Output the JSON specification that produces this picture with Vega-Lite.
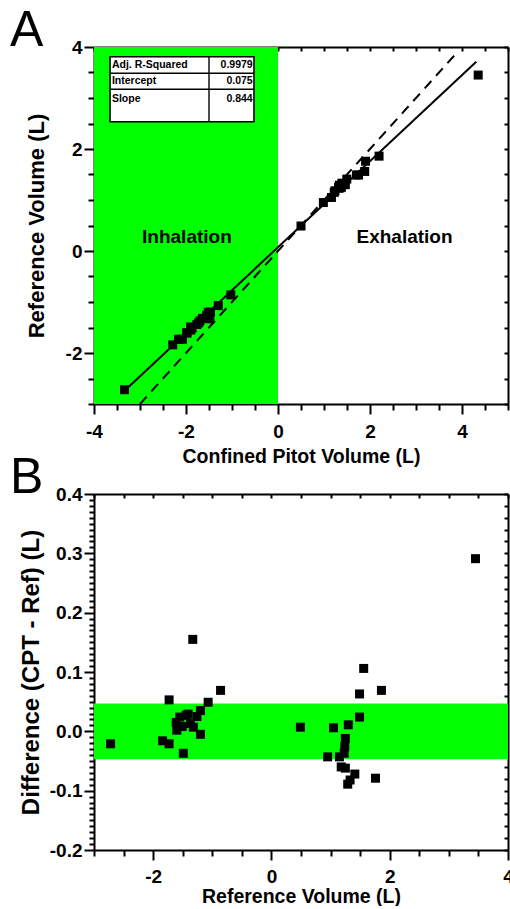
{
  "$schema": "https://vega.github.io/schema/vega-lite/v6.json",
  "padding": {"left": 10, "top": 6, "right": 0, "bottom": 0},
  "spacing": -13,
  "datasets": {
    "pts": [
      {"ref": -2.72, "diff": -0.021, "cpt": -3.337},
      {"ref": -1.33, "diff": 0.155, "cpt": -1.481},
      {"ref": -1.73, "diff": 0.053, "cpt": -2.076},
      {"ref": -0.86, "diff": 0.069, "cpt": -1.026},
      {"ref": -1.07, "diff": 0.049, "cpt": -1.299},
      {"ref": -1.20, "diff": 0.035, "cpt": -1.469},
      {"ref": -1.41, "diff": 0.029, "cpt": -1.725},
      {"ref": -1.55, "diff": 0.024, "cpt": -1.897},
      {"ref": -1.61, "diff": 0.015, "cpt": -1.979},
      {"ref": -1.60, "diff": 0.002, "cpt": -1.982},
      {"ref": -1.51, "diff": 0.008, "cpt": -1.868},
      {"ref": -1.37, "diff": 0.013, "cpt": -1.697},
      {"ref": -1.32, "diff": 0.007, "cpt": -1.645},
      {"ref": -1.26, "diff": 0.025, "cpt": -1.552},
      {"ref": -1.20, "diff": -0.005, "cpt": -1.517},
      {"ref": -1.84, "diff": -0.016, "cpt": -2.288},
      {"ref": -1.73, "diff": -0.021, "cpt": -2.164},
      {"ref": -1.49, "diff": -0.037, "cpt": -1.898},
      {"ref": -1.44, "diff": 0.027, "cpt": -1.763},
      {"ref": 0.49, "diff": 0.007, "cpt": 0.500},
      {"ref": 1.05, "diff": 0.006, "cpt": 1.162},
      {"ref": 1.30, "diff": 0.011, "cpt": 1.464},
      {"ref": 1.49, "diff": 0.024, "cpt": 1.705},
      {"ref": 1.49, "diff": 0.063, "cpt": 1.751},
      {"ref": 1.56, "diff": 0.106, "cpt": 1.885},
      {"ref": 1.86, "diff": 0.069, "cpt": 2.197},
      {"ref": 0.95, "diff": -0.043, "cpt": 0.986},
      {"ref": 1.15, "diff": -0.043, "cpt": 1.223},
      {"ref": 1.25, "diff": -0.012, "cpt": 1.378},
      {"ref": 1.24, "diff": -0.026, "cpt": 1.350},
      {"ref": 1.23, "diff": -0.037, "cpt": 1.325},
      {"ref": 1.18, "diff": -0.060, "cpt": 1.238},
      {"ref": 1.25, "diff": -0.062, "cpt": 1.319},
      {"ref": 1.41, "diff": -0.072, "cpt": 1.496},
      {"ref": 1.33, "diff": -0.082, "cpt": 1.390},
      {"ref": 1.29, "diff": -0.089, "cpt": 1.334},
      {"ref": 1.76, "diff": -0.079, "cpt": 1.903},
      {"ref": 3.45, "diff": 0.291, "cpt": 4.352}
    ],
    "fit": [
      {"stat": "Adj. R-Squared", "value": "0.9979"},
      {"stat": "Intercept", "value": "0.075"},
      {"stat": "Slope", "value": "0.844"}
    ]
  },
  "vconcat": [
    {
      "width": 414,
      "height": 357,
      "title": {"text": "A", "anchor": "start", "frame": "group", "fontSize": 50, "fontWeight": "normal", "dx": -84, "offset": -18, "color": "black"},
      "resolve": {"axis": {"x": "independent", "y": "independent"}},
      "layer": [
        {
          "data": {"values": [{"start": -4, "end": 0}]},
          "mark": {"type": "rect", "color": "#00ff00"},
          "encoding": {
            "x": {"field": "start", "type": "quantitative", "scale": {"domain": [-4, 5], "nice": false}, "axis": null},
            "x2": {"field": "end"}
          }
        },
        {
          "data": {"values": [{"v": -3}, {"v": 3.9}]},
          "mark": {"type": "line", "color": "black", "strokeWidth": 2, "strokeDash": [10, 7]},
          "encoding": {
            "x": {"field": "v", "type": "quantitative", "scale": {"domain": [-4, 5], "nice": false},
              "axis": {"orient": "top", "values": [-4,-3.5,-3,-2.5,-2,-1.5,-1,-0.5,0,0.5,1,1.5,2,2.5,3,3.5,4,4.5,5], "labels": false, "title": null, "tickSize": 3, "tickWidth": 2,
                "encoding": {"ticks": {"y2": {"value": 4}}}}},
            "y": {"field": "v", "type": "quantitative", "scale": {"domain": [-3, 4], "nice": false},
              "axis": {"orient": "right", "values": [-3,-2.5,-2,-1.5,-1,-0.5,0,0.5,1,1.5,2,2.5,3,3.5,4], "labels": false, "title": null, "tickSize": 3, "tickWidth": 2,
                "encoding": {"ticks": {"x2": {"value": -4}}}}}
          }
        },
        {
          "data": {"values": [{"x": -3.36, "y": -2.76}, {"x": 4.31, "y": 3.71}]},
          "mark": {"type": "line", "color": "black", "strokeWidth": 2},
          "encoding": {
            "x": {"field": "x", "type": "quantitative", "axis": null},
            "y": {"field": "y", "type": "quantitative", "axis": null}
          }
        },
        {
          "data": {"name": "pts"},
          "mark": {"type": "point", "shape": "square", "filled": true, "color": "black", "opacity": 1, "size": 81},
          "encoding": {
            "x": {"field": "cpt", "type": "quantitative", "scale": {"domain": [-4, 5], "nice": false},
              "axis": {"orient": "bottom", "values": [-4,-3.5,-3,-2.5,-2,-1.5,-1,-0.5,0,0.5,1,1.5,2,2.5,3,3.5,4,4.5,5],
                "labelExpr": "datum.value % 2 === 0 ? '' + datum.value : ''", "tickSize": 10, "tickWidth": 2,
                "encoding": {"ticks": {"y2": {"condition": {"test": "datum.value % 2 === 0", "value": 10}, "value": 6}}},
                "labelPadding": 8, "title": "Confined Pitot Volume (L)", "titlePadding": 6}},
            "y": {"field": "ref", "type": "quantitative", "scale": {"domain": [-3, 4], "nice": false},
              "axis": {"orient": "left", "values": [-3,-2.5,-2,-1.5,-1,-0.5,0,0.5,1,1.5,2,2.5,3,3.5,4],
                "labelExpr": "datum.value % 2 === 0 ? '' + datum.value : ''", "tickSize": 10, "tickWidth": 2,
                "encoding": {"ticks": {"x2": {"condition": {"test": "datum.value % 2 === 0", "value": -10}, "value": -6}}},
                "labelPadding": 2, "title": "Reference Volume (L)", "titleFontSize": 22, "titlePadding": 17}}
          }
        },
        {
          "data": {"values": [{}]},
          "mark": {"type": "text", "text": "Inhalation", "fontSize": 19, "fontWeight": "bold", "baseline": "middle", "color": "black"},
          "encoding": {"x": {"datum": -1.98, "axis": null}, "y": {"datum": 0.28, "axis": null}}
        },
        {
          "data": {"values": [{}]},
          "mark": {"type": "text", "text": "Exhalation", "fontSize": 19, "fontWeight": "bold", "baseline": "middle", "color": "black"},
          "encoding": {"x": {"datum": 2.75, "axis": null}, "y": {"datum": 0.28, "axis": null}}
        },
        {
          "data": {"values": [{}]},
          "mark": {"type": "rect", "fill": "white", "stroke": "black", "strokeWidth": 1.6},
          "encoding": {"x": {"datum": -3.652, "axis": null}, "x2": {"datum": -0.522}, "y": {"datum": 3.81, "axis": null}, "y2": {"datum": 2.535}}
        },
        {
          "data": {"values": [{}]},
          "mark": {"type": "rule", "color": "black", "strokeWidth": 1.4},
          "encoding": {"x": {"datum": -3.652, "axis": null}, "x2": {"datum": -0.522}, "y": {"datum": 3.484, "axis": null}}
        },
        {
          "data": {"values": [{}]},
          "mark": {"type": "rule", "color": "black", "strokeWidth": 1.4},
          "encoding": {"x": {"datum": -3.652, "axis": null}, "x2": {"datum": -0.522}, "y": {"datum": 3.171, "axis": null}}
        },
        {
          "data": {"values": [{}]},
          "mark": {"type": "rule", "color": "black", "strokeWidth": 1.4},
          "encoding": {"x": {"datum": -1.5, "axis": null}, "y": {"datum": 3.81, "axis": null}, "y2": {"datum": 2.535}}
        },
        {
          "data": {"name": "fit"},
          "transform": [{"filter": "datum.stat === 'Adj. R-Squared'"}],
          "mark": {"type": "text", "align": "left", "baseline": "alphabetic", "fontSize": 10.5, "fontWeight": "bold", "color": "black"},
          "encoding": {"x": {"datum": -3.61, "axis": null}, "y": {"datum": 3.58, "axis": null}, "text": {"field": "stat"}}
        },
        {
          "data": {"name": "fit"},
          "transform": [{"filter": "datum.stat === 'Adj. R-Squared'"}],
          "mark": {"type": "text", "align": "right", "baseline": "alphabetic", "fontSize": 10.5, "fontWeight": "bold", "color": "black"},
          "encoding": {"x": {"datum": -0.55, "axis": null}, "y": {"datum": 3.58, "axis": null}, "text": {"field": "value"}}
        },
        {
          "data": {"name": "fit"},
          "transform": [{"filter": "datum.stat === 'Intercept'"}],
          "mark": {"type": "text", "align": "left", "baseline": "alphabetic", "fontSize": 10.5, "fontWeight": "bold", "color": "black"},
          "encoding": {"x": {"datum": -3.61, "axis": null}, "y": {"datum": 3.27, "axis": null}, "text": {"field": "stat"}}
        },
        {
          "data": {"name": "fit"},
          "transform": [{"filter": "datum.stat === 'Intercept'"}],
          "mark": {"type": "text", "align": "right", "baseline": "alphabetic", "fontSize": 10.5, "fontWeight": "bold", "color": "black"},
          "encoding": {"x": {"datum": -0.55, "axis": null}, "y": {"datum": 3.27, "axis": null}, "text": {"field": "value"}}
        },
        {
          "data": {"name": "fit"},
          "transform": [{"filter": "datum.stat === 'Slope'"}],
          "mark": {"type": "text", "align": "left", "baseline": "alphabetic", "fontSize": 10.5, "fontWeight": "bold", "color": "black"},
          "encoding": {"x": {"datum": -3.61, "axis": null}, "y": {"datum": 2.93, "axis": null}, "text": {"field": "stat"}}
        },
        {
          "data": {"name": "fit"},
          "transform": [{"filter": "datum.stat === 'Slope'"}],
          "mark": {"type": "text", "align": "right", "baseline": "alphabetic", "fontSize": 10.5, "fontWeight": "bold", "color": "black"},
          "encoding": {"x": {"datum": -0.55, "axis": null}, "y": {"datum": 2.93, "axis": null}, "text": {"field": "value"}}
        }
      ]
    },
    {
      "width": 414,
      "height": 356,
      "title": {"text": "B", "anchor": "start", "frame": "group", "fontSize": 50, "fontWeight": "normal", "dx": -84, "offset": -18, "color": "black"},
      "resolve": {"axis": {"x": "independent", "y": "independent"}},
      "layer": [
        {
          "data": {"values": [{"upper": 0.047, "lower": -0.047}]},
          "mark": {"type": "rect", "color": "#00ff00"},
          "encoding": {
            "y": {"field": "upper", "type": "quantitative", "scale": {"domain": [-0.2, 0.4], "nice": false}, "axis": null},
            "y2": {"field": "lower"}
          }
        },
        {
          "data": {"name": "pts"},
          "mark": {"type": "point", "opacity": 0},
          "encoding": {
            "x": {"field": "ref", "type": "quantitative",
              "axis": {"orient": "top", "values": [-3,-2.5,-2,-1.5,-1,-0.5,0,0.5,1,1.5,2,2.5,3,3.5,4], "labels": false, "title": null, "tickSize": 3, "tickWidth": 2,
                "encoding": {"ticks": {"y2": {"value": 4}}}}},
            "y": {"field": "diff", "type": "quantitative",
              "axis": {"orient": "right", "values": [-0.2,-0.18,-0.16,-0.14,-0.12,-0.1,-0.08,-0.06,-0.04,-0.02,0,0.02,0.04,0.06,0.08,0.1,0.12,0.14,0.16,0.18,0.2,0.22,0.24,0.26,0.28,0.3,0.32,0.34,0.36,0.38,0.4], "labels": false, "title": null, "tickSize": 3, "tickWidth": 2,
                "encoding": {"ticks": {"x2": {"value": -4}}}}}
          }
        },
        {
          "data": {"name": "pts"},
          "mark": {"type": "point", "shape": "square", "filled": true, "color": "black", "opacity": 1, "size": 81},
          "encoding": {
            "x": {"field": "ref", "type": "quantitative", "scale": {"domain": [-3, 4], "nice": false},
              "axis": {"orient": "bottom", "values": [-3,-2.5,-2,-1.5,-1,-0.5,0,0.5,1,1.5,2,2.5,3,3.5,4],
                "labelExpr": "datum.value % 2 === 0 ? '' + datum.value : ''", "tickSize": 10, "tickWidth": 2,
                "encoding": {"ticks": {"y2": {"condition": {"test": "datum.value % 2 === 0", "value": 10}, "value": 6}}},
                "labelPadding": 7, "title": "Reference Volume (L)", "titlePadding": 1}},
            "y": {"field": "diff", "type": "quantitative", "scale": {"domain": [-0.2, 0.4], "nice": false},
              "axis": {"orient": "left", "values": [-0.2,-0.19,-0.18,-0.17,-0.16,-0.15,-0.14,-0.13,-0.12,-0.11,-0.1,-0.09,-0.08,-0.07,-0.06,-0.05,-0.04,-0.03,-0.02,-0.01,0,0.01,0.02,0.03,0.04,0.05,0.06,0.07,0.08,0.09,0.1,0.11,0.12,0.13,0.14,0.15,0.16,0.17,0.18,0.19,0.2,0.21,0.22,0.23,0.24,0.25,0.26,0.27,0.28,0.29,0.3,0.31,0.32,0.33,0.34,0.35,0.36,0.37,0.38,0.39,0.4],
                "labelExpr": "abs(round(datum.value*100)) % 10 === 0 ? (datum.value < -0.001 ? '-' : '') + format(abs(datum.value), '.1f') : ''", "tickSize": 10, "tickWidth": 2,
                "encoding": {"ticks": {"x2": {"condition": {"test": "abs(round(datum.value*100)) % 10 === 0", "value": -10}, "value": -5}}},
                "labelPadding": 2, "title": "Difference (CPT - Ref) (L)", "titleFontSize": 24, "titlePadding": 6}}
          }
        }
      ]
    }
  ],
  "config": {
    "font": "Liberation Sans",
    "view": {"stroke": null},
    "title": {"font": "Liberation Sans"},
    "axis": {
      "labelFont": "Liberation Sans", "titleFont": "Liberation Sans",
      "labelFontWeight": "bold", "labelFontSize": 19, "labelColor": "black",
      "titleFontWeight": "bold", "titleFontSize": 19.5, "titleColor": "black",
      "domainColor": "black", "domainWidth": 2, "tickColor": "black", "tickWidth": 1.5,
      "grid": false, "labelOverlap": false, "labelFlush": false, "zindex": 1
    },
    "text": {"font": "Liberation Sans"}
  }
}
